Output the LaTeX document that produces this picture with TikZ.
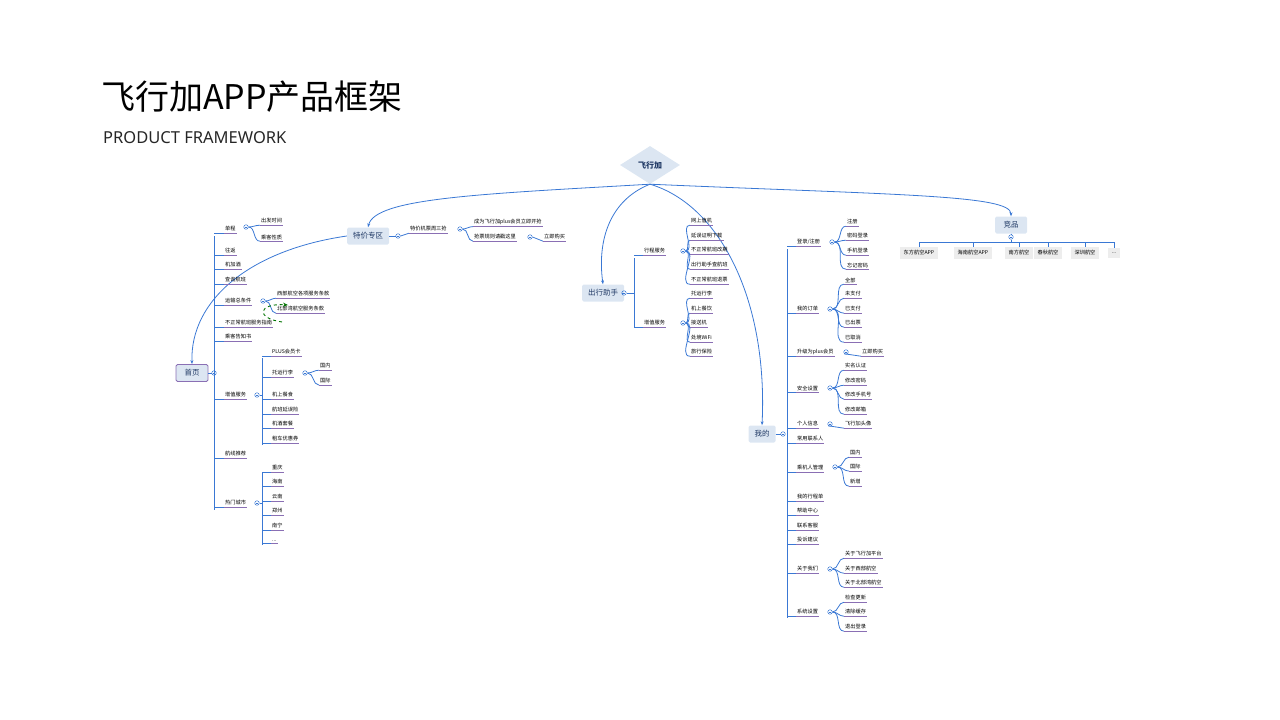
\documentclass[tikz,border=0pt]{standalone}
\usepackage{fontspec}
\setmainfont{Noto Sans CJK SC}
\newfontfamily\lat{Noto Sans}
\usetikzlibrary{arrows.meta,shapes.geometric}
\definecolor{lblue}{HTML}{3A78D4}
\definecolor{pu}{HTML}{8A6FB4}
\definecolor{bx}{HTML}{DCE6F2}
\definecolor{dk}{HTML}{1F3864}
\tikzset{
 leaf/.style={anchor=west,inner xsep=1pt,inner ysep=1.6pt,font=\fontsize{5.2}{6}\selectfont},
 ul/.style={pu,line width=0.6pt},
 bl/.style={lblue,line width=0.8pt},
 cc/.style={circle,draw=lblue,line width=0.5pt,minimum size=4.5pt,inner sep=0pt},
 box/.style={fill=bx,rounded corners=1.5pt,text=dk,font=\fontsize{7.5}{8}\selectfont,minimum height=17pt,inner xsep=6pt},
 gbox/.style={fill=black!7,font=\fontsize{5.2}{6}\selectfont,minimum height=10pt,inner xsep=4pt},
 arr/.style={lblue,line width=0.8pt,-{Stealth[length=4pt,width=3pt]}}
}
\newcommand\LF[4]{\node[leaf] (#1) at (#2,#3) {#4}; \draw[ul] (#1.south west) -- (#1.south east);}
\newcommand\CC[2]{\node[cc] (#1) at (#2) {}; \draw[lblue,line width=0.4pt] ([xshift=-1.2pt]#1.center) -- ([xshift=1.2pt]#1.center);}
\newcommand\BR[2]{\draw[bl] (#1.east) to[out=0,in=180] (#2.south west);}
\newcommand\TK[2]{\draw[bl] (#1 |- #2.south west) -- (#2.south west);}
\begin{document}
\begin{tikzpicture}[x=1pt,y=-1pt]
\useasboundingbox (0,0) rectangle (1280,720);
\node[anchor=west,inner sep=0,font=\fontsize{34}{36}\selectfont] (title) at (101,97) {飞行加APP产品框架};
\node[anchor=west,inner sep=0,font=\lat\fontsize{16.5}{18}\selectfont,text=black!85] (sub) at (103,138) {PRODUCT FRAMEWORK};

% root
\node[diamond,fill=bx,text=dk,font=\bfseries\fontsize{8}{9}\selectfont,minimum width=60pt,minimum height=38pt,inner sep=0,aspect=1.6] (root) at (650,165) {飞行加};
\node[box] (tj) at (368,236) {特价专区};
\node[box] (cx) at (603,293) {出行助手};
\node[box] (wd) at (762,434) {我的};
\node[box,minimum width=32pt] (jp) at (1011,225) {竞品};
\node[box,draw=pu,line width=0.8pt,minimum width=32pt] (sy) at (192,373) {首页};
\draw[arr] (root.south) .. controls (480,194) and (375,198) .. (tj.north);
\draw[arr] (root.south) .. controls (610,200) and (597,240) .. (cx.north);
\draw[arr] (root.south) .. controls (720,205) and (768,300) .. (wd.north);
\draw[arr] (root.south) .. controls (900,195) and (1011,195) .. (jp.north);
\draw[arr] (tj.west) .. controls (250,250) and (190,300) .. (sy.north);

% 首页
\CC{csy}{214,373}
\draw[bl] (sy.east) -- (csy.west);
\coordinate (b1) at (214,236);
\draw[bl] (214,236) -- (214,510);
\LF{a1}{224}{229}{单程}
\LF{a2}{224}{251}{往返}
\LF{a3}{224}{265}{机加酒}
\LF{a4}{224}{280}{查询航班}
\LF{a5}{224}{301}{运输总条件}
\LF{a6}{224}{323}{不正常航班服务指南}
\LF{a7}{224}{337}{乘客告知书}
\LF{a8}{224}{395}{增值服务}
\LF{a9}{224}{454}{航线推荐}
\LF{a10}{224}{503}{热门城市}
\foreach \n in {a1,a2,a3,a4,a5,a6,a7,a8,a9,a10} {\TK{b1}{\n}}
\CC{c1}{246,227}
\LF{a11}{260}{221}{出发时间}\LF{a12}{260}{237}{乘客性质}
\BR{c1}{a11}\BR{c1}{a12}
\CC{c2}{263,301}
\LF{a13}{276}{294}{西部航空各项服务条款}\LF{a14}{276}{309}{北部湾航空服务条款}
\BR{c2}{a13}\BR{c2}{a14}
\coordinate (g1) at (282,322);
\coordinate (g2) at (288,305);
\draw[green!45!black,dashed,line width=0.9pt,-{Stealth[length=5pt,width=4pt]}] (g1) .. controls (255,318) and (258,303) .. (g2);
\CC{c3}{257,395}
\draw[bl] (262,358) -- (262,445);
\coordinate (b3) at (262,358);
\LF{a15}{271}{352}{PLUS会员卡}\LF{a16}{271}{373}{托运行李}\LF{a17}{271}{395}{机上餐食}
\LF{a18}{271}{410}{航班延误险}\LF{a19}{271}{424}{机酒套餐}\LF{a20}{271}{439}{租车优惠券}
\foreach \n in {a15,a16,a17,a18,a19,a20} {\TK{b3}{\n}}
\draw[bl] (c3.east) -- (262,395);
\CC{c4}{305,373}
\LF{a21}{319}{366}{国内}\LF{a22}{319}{381}{国际}
\BR{c4}{a21}\BR{c4}{a22}
\CC{c5}{257,503}
\coordinate (b5) at (262,472);
\draw[bl] (262,472) -- (262,545);
\draw[bl] (c5.east) -- (262,503);
\LF{a23}{271}{468}{重庆}\LF{a24}{271}{482}{海南}\LF{a25}{271}{497}{云南}
\LF{a26}{271}{511}{郑州}\LF{a27}{271}{526}{南宁}\LF{a28}{271}{541}{...}
\foreach \n in {a23,a24,a25,a26,a27,a28} {\TK{b5}{\n}}

% 特价专区
\CC{c6}{398,236}
\draw[bl] (tj.east) -- (c6.west);
\LF{t1}{409}{229}{特价机票周三抢}
\draw[bl] (c6.east) -- (t1.south west);
\CC{c7}{460,229}
\LF{t2}{473}{222}{成为飞行加plus会员立即开抢}\LF{t3}{473}{237}{抢票规则请戳这里}
\BR{c7}{t2}\BR{c7}{t3}
\CC{c8}{530,237}
\LF{t4}{543}{237}{立即购买}
\draw[bl] (c8.east) -- (t4.south west);

% 出行助手
\CC{c9}{624,293}
\draw[bl] (cx.east) -- (c9.west);
\coordinate (b9) at (634,258);
\draw[bl] (634,258) -- (634,328);
\draw[bl] (c9.east) -- (634,293);
\LF{x1}{643}{251}{行程服务}\LF{x2}{643}{323}{增值服务}
\TK{b9}{x1}\TK{b9}{x2}
\CC{c10}{683,251}\CC{c11}{683,323}
\LF{x3}{690}{221}{网上值机}\LF{x4}{690}{236}{延误证明下载}\LF{x5}{690}{250}{不正常航班改期}
\LF{x6}{690}{265}{出行助手查航班}\LF{x7}{690}{280}{不正常航班退票}
\foreach \n in {x3,x4,x5,x6,x7} {\BR{c10}{\n}}
\LF{x8}{690}{294}{托运行李}\LF{x9}{690}{309}{机上餐饮}\LF{x10}{690}{323}{接送机}
\LF{x11}{690}{338}{处境WiFi}\LF{x12}{690}{352}{旅行保险}
\foreach \n in {x8,x9,x10,x11,x12} {\BR{c11}{\n}}

% 我的
\CC{c12}{783,434}
\draw[bl] (wd.east) -- (c12.west);
\coordinate (b12) at (787,249);
\draw[bl] (787,249) -- (787,618);
\LF{w1}{796}{242}{登录/注册}\LF{w2}{796}{309}{我的订单}\LF{w3}{796}{352}{升级为plus会员}
\LF{w4}{796}{388}{安全设置}\LF{w5}{796}{424}{个人信息}\LF{w6}{796}{439}{常用联系人}
\LF{w7}{796}{468}{乘机人管理}\LF{w8}{796}{497}{我的行程单}\LF{w9}{796}{511}{帮助中心}
\LF{w10}{796}{526}{联系客服}\LF{w11}{796}{540}{投诉建议}\LF{w12}{796}{569}{关于我们}
\LF{w13}{796}{612}{系统设置}
\foreach \n in {w1,w2,w3,w4,w5,w6,w7,w8,w9,w10,w11,w12,w13} {\TK{b12}{\n}}
\CC{c13}{832,242}
\LF{w14}{846}{222}{注册}\LF{w15}{846}{236}{密码登录}\LF{w16}{846}{251}{手机登录}\LF{w17}{846}{265}{忘记密码}
\foreach \n in {w14,w15,w16,w17} {\BR{c13}{\n}}
\CC{c14}{830,309}
\LF{w18}{844}{280}{全部}\LF{w19}{844}{294}{未支付}\LF{w20}{844}{309}{已支付}\LF{w21}{844}{323}{已出票}\LF{w22}{844}{338}{已取消}
\foreach \n in {w18,w19,w20,w21,w22} {\BR{c14}{\n}}
\CC{c15}{846,352}
\LF{w23}{861}{352}{立即购买}
\draw[bl] (c15.south west) -- (w23.south west);
\CC{c16}{830,388}
\LF{w24}{844}{366}{实名认证}\LF{w25}{844}{381}{修改密码}\LF{w26}{844}{395}{修改手机号}\LF{w27}{844}{410}{修改邮箱}
\foreach \n in {w24,w25,w26,w27} {\BR{c16}{\n}}
\CC{c17}{830,424}
\LF{w28}{844}{424}{飞行加头像}
\draw[bl] (c17.south west) -- (w28.south west);
\CC{c18}{835,467}
\LF{w29}{849}{453}{国内}\LF{w30}{849}{467}{国际}\LF{w31}{849}{482}{新增}
\foreach \n in {w29,w30,w31} {\BR{c18}{\n}}
\CC{c19}{830,569}
\LF{w32}{844}{554}{关于飞行加平台}\LF{w33}{844}{569}{关于西部航空}\LF{w34}{844}{583}{关于北部湾航空}
\foreach \n in {w32,w33,w34} {\BR{c19}{\n}}
\CC{c20}{830,612}
\LF{w35}{844}{598}{检查更新}\LF{w36}{844}{612}{清除缓存}\LF{w37}{844}{627}{退出登录}
\foreach \n in {w35,w36,w37} {\BR{c20}{\n}}

% 竞品
\CC{c21}{1011,237}
\draw[bl] (jp.south) -- (c21.north);
\node[gbox] (j1) at (919,253) {东方航空APP};
\node[gbox] (j2) at (973,253) {海南航空APP};
\node[gbox] (j3) at (1019,253) {南方航空};
\node[gbox] (j4) at (1048,253) {春秋航空};
\node[gbox] (j5) at (1085,253) {深圳航空};
\node[gbox] (j6) at (1114,253) {...};
\coordinate (jbar) at (1011,242);
\draw[bl] (c21.south) -- (jbar);
\draw[bl] (919,242) -- (1114,242);
\foreach \n in {j1,j2,j3,j4,j5,j6} {\draw[bl] (\n.north |- jbar) -- (\n.north);}
\end{tikzpicture}
\end{document}
